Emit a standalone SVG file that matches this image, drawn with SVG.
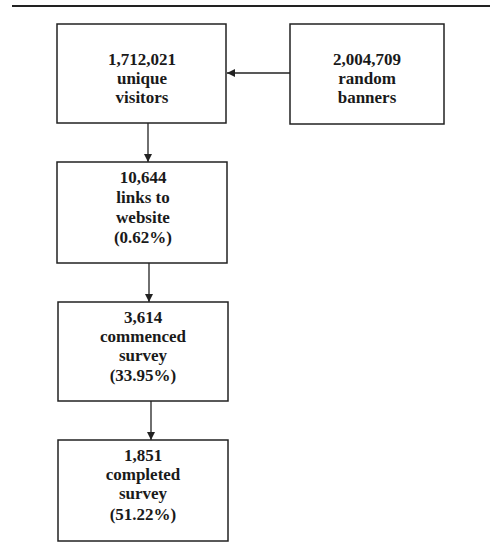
<svg xmlns="http://www.w3.org/2000/svg" width="490" height="549" viewBox="0 0 490 549">
<style>
.box{fill:#fff;stroke:#222;stroke-width:1.5}
.t{font-family:"Liberation Serif","Times New Roman",serif;font-weight:bold;font-size:17px;fill:#1a1a1a;text-anchor:middle}
.c{stroke:#222;stroke-width:1.3;fill:none;marker-end:url(#ah)}
</style>
<defs>
<marker id="ah" viewBox="0 0 10 10" refX="10" refY="5" markerWidth="8" markerHeight="8" markerUnits="userSpaceOnUse" orient="auto">
<path d="M0,0 L10,5 L0,10 z" fill="#222"/>
</marker>
</defs>
<rect width="490" height="549" fill="#fff"/>
<line x1="12" y1="6" x2="490" y2="6" stroke="#222" stroke-width="2"/>
<g id="connectors">
<line class="c" x1="290" y1="73" x2="227" y2="73"/>
<line class="c" x1="148" y1="123" x2="148" y2="162"/>
<line class="c" x1="149" y1="263" x2="149" y2="302"/>
<line class="c" x1="151" y1="401" x2="151" y2="440"/>
</g>
<g id="visitors">
<rect class="box" x="57" y="24" width="169" height="99"/>
<text class="t" x="142" y="65">1,712,021</text>
<text class="t" x="142" y="84">unique</text>
<text class="t" x="142" y="103">visitors</text>
</g>
<g id="banners">
<rect class="box" x="290" y="24" width="154" height="100"/>
<text class="t" x="367" y="65">2,004,709</text>
<text class="t" x="367" y="84">random</text>
<text class="t" x="367" y="103">banners</text>
</g>
<g id="links">
<rect class="box" x="57" y="162" width="170" height="101"/>
<text class="t" x="143" y="183">10,644</text>
<text class="t" x="143" y="203">links to</text>
<text class="t" x="143" y="223">website</text>
<text class="t" x="143" y="243">(0.62%)</text>
</g>
<g id="commenced">
<rect class="box" x="58" y="302" width="170" height="99"/>
<text class="t" x="143" y="323">3,614</text>
<text class="t" x="143" y="342">commenced</text>
<text class="t" x="143" y="361">survey</text>
<text class="t" x="143" y="381">(33.95%)</text>
</g>
<g id="completed">
<rect class="box" x="58" y="440" width="170" height="101"/>
<text class="t" x="143" y="461">1,851</text>
<text class="t" x="143" y="480">completed</text>
<text class="t" x="143" y="499">survey</text>
<text class="t" x="143" y="520">(51.22%)</text>
</g>
</svg>
